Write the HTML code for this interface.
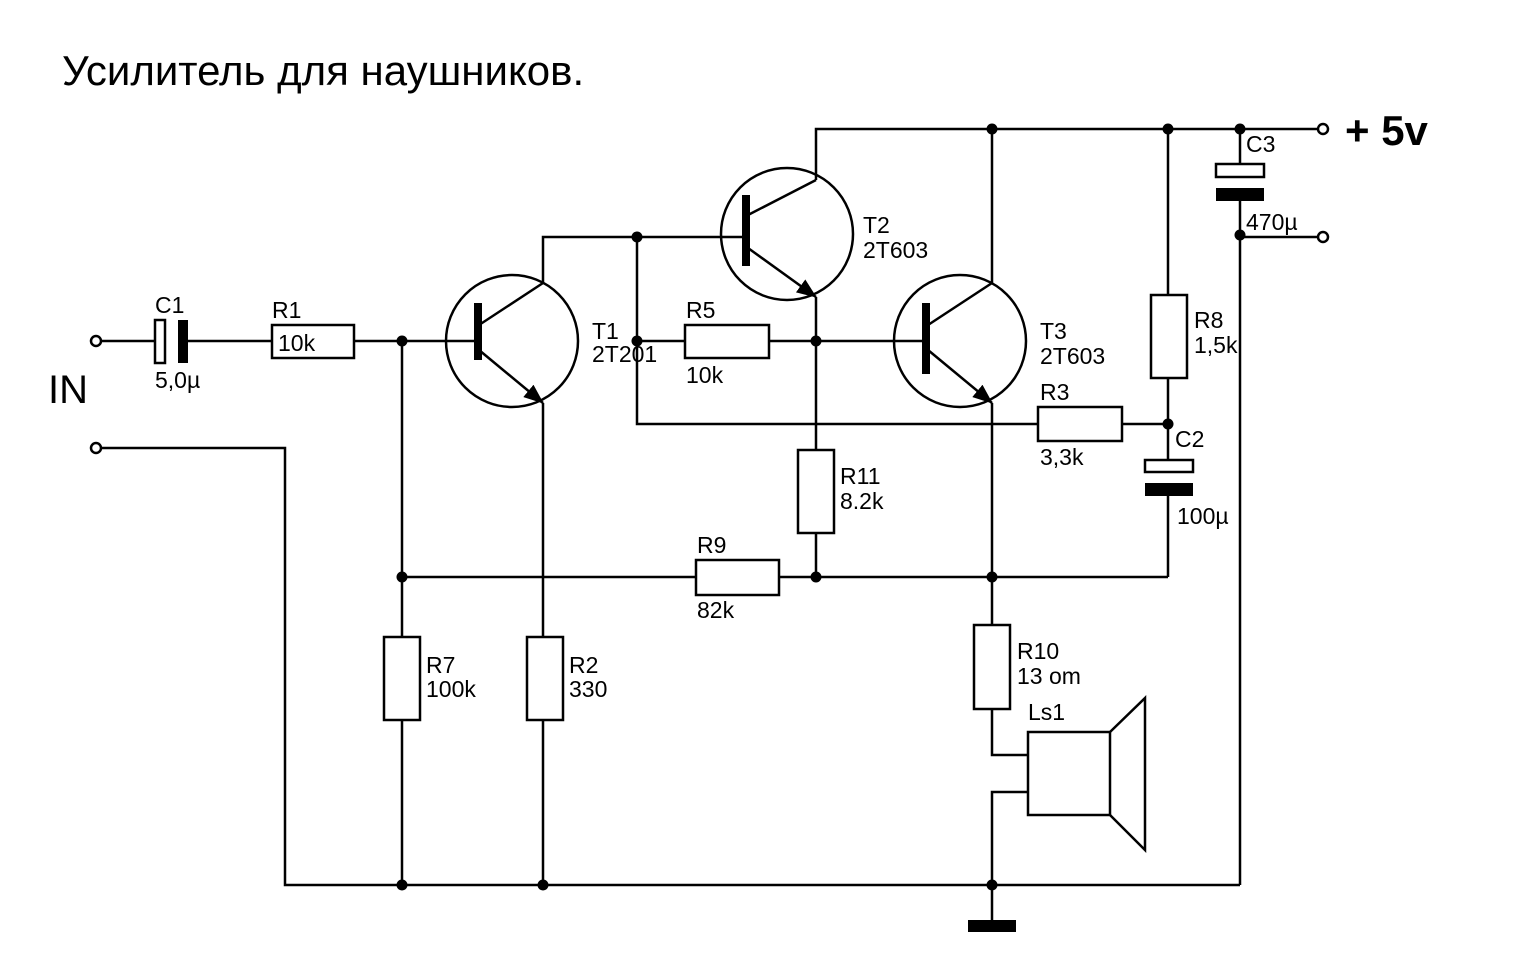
<!DOCTYPE html>
<html><head><meta charset="utf-8"><style>
html,body{margin:0;padding:0;background:#fff;}
svg{display:block;}
text{font-family:"Liberation Sans",sans-serif;fill:#000;}
</style></head><body>
<svg width="1535" height="980" viewBox="0 0 1535 980" xmlns="http://www.w3.org/2000/svg">
<defs>
<marker id="ar" markerWidth="20" markerHeight="16" refX="19" refY="8" orient="auto" markerUnits="userSpaceOnUse">
<path d="M0,0 L20,8 L0,16 z" fill="#000"/></marker>
</defs>
<text x="62" y="85" font-size="42">Усилитель для наушников.</text>
<text x="1345" y="145" font-size="42" font-weight="bold" stroke="#000" stroke-width="0">+ 5v</text>
<text x="48" y="403" font-size="40">IN</text>
<g stroke="#000" stroke-width="2.5" fill="none">
<path d="M816,180 V129 H1318"/>
<path d="M992,129 V283"/>
<path d="M1168,129 V295 M1168,378 V460 M1168,496 V577"/>
<path d="M1240,129 V164 M1240,201 V885 M1240,237 H1318"/>
<path d="M100,341 H155 M188,341 H272 M354,341 H476"/>
<path d="M100,448 H285 V885 H1240"/>
<path d="M479,325 L543,283 V237 H745"/>
<path d="M543,403 V885"/>
<path d="M748,215 L816,180"/>
<path d="M816,297 V450 M816,533 V577"/>
<path d="M637,237 V424 H1038 M1122,424 H1168"/>
<path d="M637,341 H685 M769,341 H925"/>
<path d="M928,325 L992,283"/>
<path d="M992,403 V625 M992,709 V755 H1028 M1028,792 H992 V920"/>
<path d="M402,341 V637 M402,720 V885"/>
<path d="M402,577 H696 M779,577 H1168"/>
<path d="M543,637 V720"/>
<path d="M479,350 L543,403" marker-end="url(#ar)"/>
<path d="M748,248 L816,297" marker-end="url(#ar)"/>
<path d="M928,350 L992,403" marker-end="url(#ar)"/>
<circle cx="512" cy="341" r="66"/>
<circle cx="787" cy="234" r="66"/>
<circle cx="960" cy="341" r="66"/>
<rect x="272" y="325" width="82" height="33" fill="#fff"/>
<rect x="685" y="325" width="84" height="33" fill="#fff"/>
<rect x="1038" y="407" width="84" height="34" fill="#fff"/>
<rect x="696" y="560" width="83" height="35" fill="#fff"/>
<rect x="1151" y="295" width="36" height="83" fill="#fff"/>
<rect x="798" y="450" width="36" height="83" fill="#fff"/>
<rect x="384" y="637" width="36" height="83" fill="#fff"/>
<rect x="527" y="637" width="36" height="83" fill="#fff"/>
<rect x="974" y="625" width="36" height="84" fill="#fff"/>
<rect x="155" y="320" width="10" height="43" fill="#fff"/>
<rect x="1216" y="164" width="48" height="13" fill="#fff"/>
<rect x="1145" y="460" width="48" height="12" fill="#fff"/>
<rect x="1028" y="732" width="82" height="83"/>
<path d="M1110,732 L1145,698 V850 L1110,815"/>
<circle cx="96" cy="341" r="5" fill="#fff"/>
<circle cx="96" cy="448" r="5" fill="#fff"/>
<circle cx="1323" cy="129" r="5" fill="#fff"/>
<circle cx="1323" cy="237" r="5" fill="#fff"/>
</g>
<g fill="#000">
<rect x="178" y="320" width="10" height="43"/>
<rect x="1216" y="188" width="48" height="13"/>
<rect x="1145" y="483" width="48" height="13"/>
<rect x="474" y="303" width="8" height="57"/>
<rect x="742" y="195" width="8" height="71"/>
<rect x="922" y="303" width="8" height="71"/>
<rect x="968" y="920" width="48" height="12"/>
<circle cx="992" cy="129" r="5.5"/><circle cx="1168" cy="129" r="5.5"/><circle cx="1240" cy="129" r="5.5"/>
<circle cx="1240" cy="235" r="5.5"/><circle cx="637" cy="237" r="5.5"/><circle cx="402" cy="341" r="5.5"/>
<circle cx="637" cy="341" r="5.5"/><circle cx="816" cy="341" r="5.5"/><circle cx="1168" cy="424" r="5.5"/>
<circle cx="402" cy="577" r="5.5"/><circle cx="816" cy="577" r="5.5"/><circle cx="992" cy="577" r="5.5"/>
<circle cx="402" cy="885" r="5.5"/><circle cx="543" cy="885" r="5.5"/><circle cx="992" cy="885" r="5.5"/>
</g>
<g font-size="23">
<text x="155" y="313">C1</text><text x="155" y="388">5,0µ</text>
<text x="272" y="318">R1</text><text x="278" y="351">10k</text>
<text x="592" y="339">T1</text><text x="592" y="362">2T201</text>
<text x="686" y="318">R5</text><text x="686" y="383">10k</text>
<text x="863" y="233">T2</text><text x="863" y="258">2T603</text>
<text x="1040" y="339">T3</text><text x="1040" y="364">2T603</text>
<text x="1040" y="400">R3</text><text x="1040" y="465">3,3k</text>
<text x="1194" y="328">R8</text><text x="1194" y="353">1,5k</text>
<text x="1175" y="447">C2</text><text x="1177" y="524">100µ</text>
<text x="1246" y="152">C3</text><text x="1246" y="230">470µ</text>
<text x="840" y="484">R11</text><text x="840" y="509">8.2k</text>
<text x="697" y="553">R9</text><text x="697" y="618">82k</text>
<text x="426" y="673">R7</text><text x="426" y="697">100k</text>
<text x="569" y="673">R2</text><text x="569" y="697">330</text>
<text x="1017" y="659">R10</text><text x="1017" y="684">13 om</text>
<text x="1028" y="720">Ls1</text>
</g>
</svg>
</body></html>
